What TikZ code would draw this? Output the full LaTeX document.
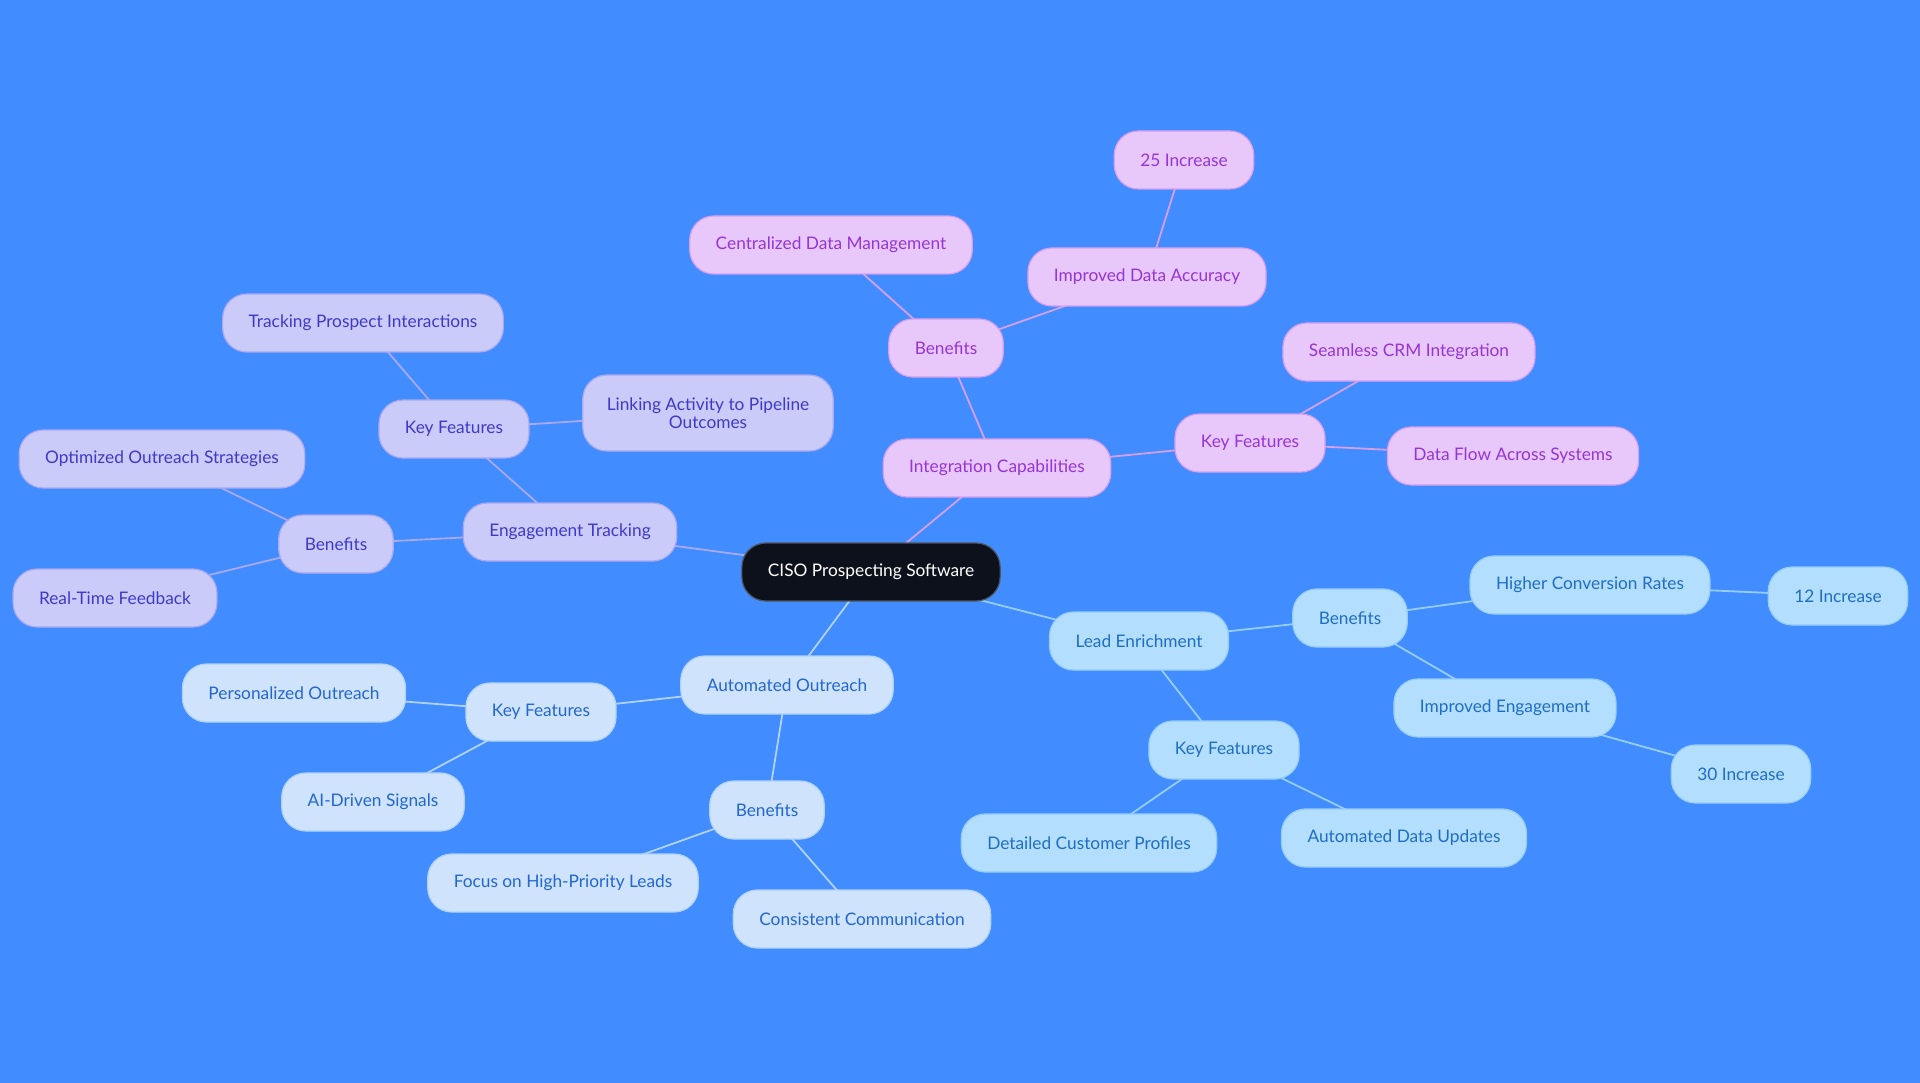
\documentclass[tikz,border=0pt]{standalone}
\usepackage{fontspec}
\setmainfont{Lato}
\usetikzlibrary{backgrounds}

\definecolor{bgblue}{RGB}{65,140,255}
\definecolor{corefill}{RGB}{12,17,27}
\definecolor{coreedge}{RGB}{80,86,96}
% integration branch
\definecolor{integfill}{RGB}{232,200,250}
\definecolor{integedge}{RGB}{214,158,236}
\definecolor{integtext}{RGB}{150,52,214}
% engagement branch
\definecolor{engfill}{RGB}{203,203,250}
\definecolor{engedge}{RGB}{170,168,238}
\definecolor{engtext}{RGB}{62,58,200}
% outreach branch
\definecolor{outfill}{RGB}{207,228,252}
\definecolor{outedge}{RGB}{176,210,248}
\definecolor{outtext}{RGB}{34,102,210}
% enrichment branch
\definecolor{leadfill}{RGB}{180,222,253}
\definecolor{leadedge}{RGB}{150,205,248}
\definecolor{leadtext}{RGB}{30,110,196}

\begin{document}
\begin{tikzpicture}[x=1pt, y=-1pt,
  topic/.style={draw, line width=1.2pt, rounded corners=24pt, minimum height=58pt,
    inner xsep=26pt, align=center, font=\fontsize{17.3}{18}\selectfont},
  core/.style={topic, fill=corefill, draw=coreedge, text=white},
  integ/.style={topic, fill=integfill, draw=integedge, text=integtext},
  eng/.style={topic, fill=engfill, draw=engedge, text=engtext},
  outr/.style={topic, fill=outfill, draw=outedge, text=outtext},
  lead/.style={topic, fill=leadfill, draw=leadedge, text=leadtext},
  link/.style={line width=1.8pt}]

% page size
\useasboundingbox (0,0) rectangle (1920,1083);

% centre
\node[core] (ciso) at (871,572) {CISO Prospecting Software};

% integration capabilities
\node[integ] (integ) at (997,468) {Integration Capabilities};
\node[integ] (ibenef) at (946,348) {Benefits};
\node[integ] (central) at (831,245) {Centralized Data Management};
\node[integ] (accuracy) at (1147,277) {Improved Data Accuracy};
\node[integ] (inc25) at (1184,160) {25 Increase};
\node[integ] (ikey) at (1250,443) {Key Features};
\node[integ] (crm) at (1409,352) {Seamless CRM Integration};
\node[integ] (flow) at (1513,456) {Data Flow Across Systems};

% engagement tracking
\node[eng] (engage) at (570,532) {Engagement Tracking};
\node[eng] (ekey) at (454,429) {Key Features};
\node[eng] (tracking) at (363,323) {Tracking Prospect Interactions};
\node[eng, minimum height=76pt, inner xsep=24pt] (linking) at (708,413) {Linking Activity to Pipeline\\Outcomes};
\node[eng] (ebenef) at (336,544) {Benefits};
\node[eng] (optim) at (162,459) {Optimized Outreach Strategies};
\node[eng] (feedback) at (115,598) {Real-Time Feedback};

% automated outreach
\node[outr] (auto) at (787,685) {Automated Outreach};
\node[outr] (akey) at (541,712) {Key Features};
\node[outr] (personal) at (294,693) {Personalized Outreach};
\node[outr] (signals) at (373,802) {AI-Driven Signals};
\node[outr] (abenef) at (767,810) {Benefits};
\node[outr] (focus) at (563,883) {Focus on High-Priority Leads};
\node[outr] (consist) at (862,919) {Consistent Communication};

% lead enrichment
\node[lead] (enrich) at (1139,641) {Lead Enrichment};
\node[lead] (lbenef) at (1350,618) {Benefits};
\node[lead] (conv) at (1590,585) {Higher Conversion Rates};
\node[lead] (inc12) at (1838,596) {12 Increase};
\node[lead] (engmt) at (1505,708) {Improved Engagement};
\node[lead] (inc30) at (1741,774) {30 Increase};
\node[lead] (lkey) at (1224,750) {Key Features};
\node[lead] (profiles) at (1089,843) {Detailed Customer Profiles};
\node[lead] (updates) at (1404,838) {Automated Data Updates};

% background and connectors behind the nodes
\begin{scope}[on background layer]
\fill[bgblue] (0,0) rectangle (1920,1083);
\foreach \a/\b in {ciso/integ, integ/ibenef, ibenef/central, ibenef/accuracy,
    accuracy/inc25, integ/ikey, ikey/crm, ikey/flow}
  \draw[link, integedge] (\a.center) -- (\b.center);
\foreach \a/\b in {ciso/engage, engage/ekey, ekey/tracking, ekey/linking,
    engage/ebenef, ebenef/optim, ebenef/feedback}
  \draw[link, engedge] (\a.center) -- (\b.center);
\foreach \a/\b in {ciso/auto, auto/akey, akey/personal, akey/signals,
    auto/abenef, abenef/focus, abenef/consist}
  \draw[link, outedge] (\a.center) -- (\b.center);
\foreach \a/\b in {ciso/enrich, enrich/lbenef, lbenef/conv, conv/inc12,
    lbenef/engmt, engmt/inc30, enrich/lkey, lkey/profiles, lkey/updates}
  \draw[link, leadedge] (\a.center) -- (\b.center);
\end{scope}
\end{tikzpicture}
\end{document}
